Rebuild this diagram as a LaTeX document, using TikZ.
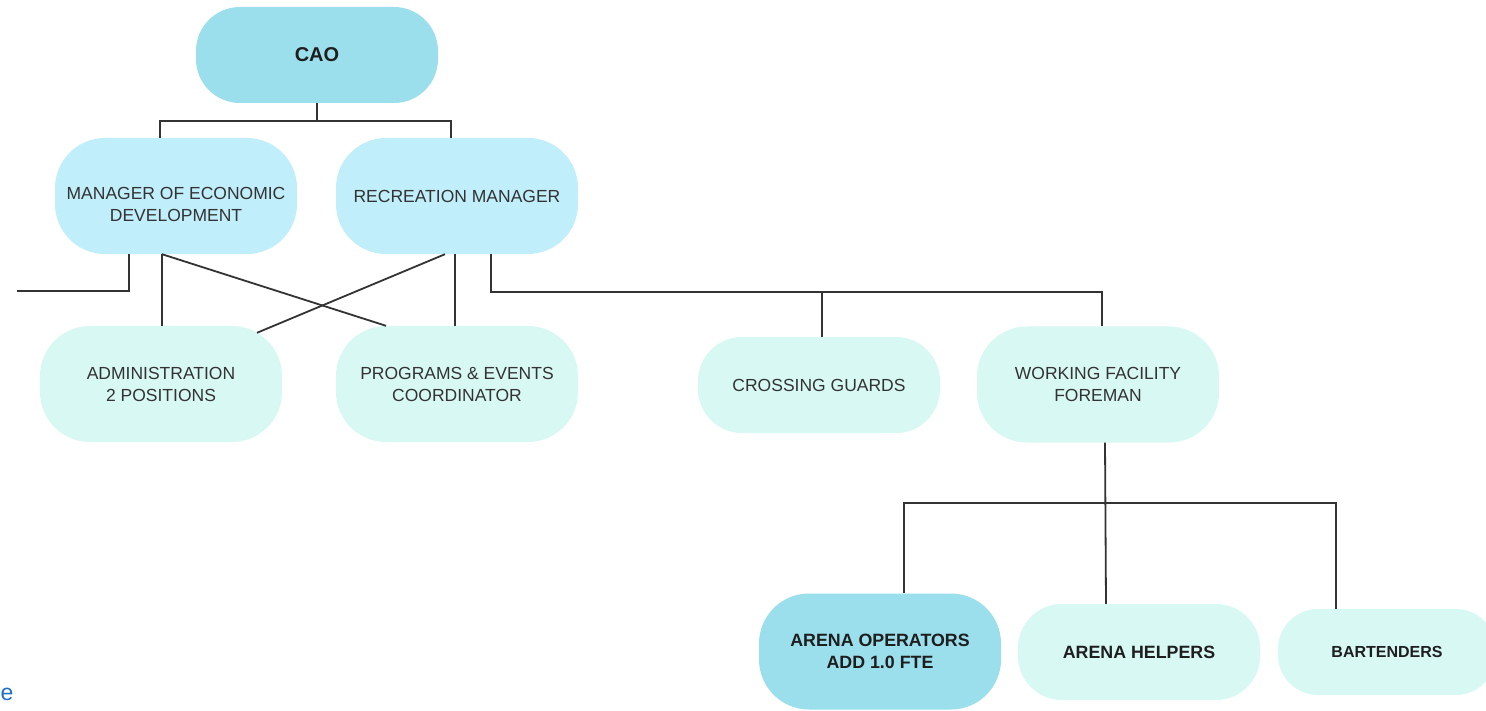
\documentclass[tikz,border=0pt]{standalone}
\usepackage{fontspec}
\setmainfont{Liberation Sans}
\usetikzlibrary{calc}
\definecolor{cdark}{HTML}{9ADFEB}
\definecolor{cmid}{HTML}{C0EEFB}
\definecolor{clight}{HTML}{D8F8F4}
\definecolor{ctext}{HTML}{333333}
\definecolor{cbold}{HTML}{1E1E1E}
\definecolor{cline}{HTML}{333333}
\definecolor{clink}{HTML}{1F6FC5}
\begin{document}
\begin{tikzpicture}[x=1pt,y=-1pt,
  box/.style={rectangle, align=center, inner sep=0pt, text=ctext,
    font=\fontsize{17.5}{22}\selectfont, minimum width=242pt},
  tallbox/.style={box, minimum height=116pt, rounded corners=50pt},
  shortbox/.style={box, minimum height=96pt, rounded corners=44pt},
  boldtext/.style={text=cbold, font=\fontsize{17.8}{22}\selectfont\bfseries},
  plaintext/.style={align=center, inner sep=0pt, text=ctext, font=\fontsize{17.5}{22}\selectfont},
  conn/.style={draw=cline, line width=1.8pt}]
\clip (0,0) rectangle (1486,711);
\fill[white] (0,0) rectangle (1486,711);

% nodes
\node[shortbox, fill=cdark, boldtext, font=\fontsize{20}{24}\selectfont\bfseries] (cao) at (317,55) {CAO};
\node[tallbox, fill=cmid] (med) at (176,196) {};
\node[plaintext] (medtext) at ($(med.center)+(0,8)$) {MANAGER OF ECONOMIC\\DEVELOPMENT};
\node[tallbox, fill=cmid] (rm) at (457,196) {RECREATION MANAGER};
\node[tallbox, fill=clight] (adm) at (161,384) {ADMINISTRATION\\2 POSITIONS};
\node[tallbox, fill=clight] (prog) at (457,384) {PROGRAMS \& EVENTS\\COORDINATOR};
\node[shortbox, fill=clight] (cg) at (819,385) {CROSSING GUARDS};
\node[tallbox, fill=clight] (wff) at (1098,384.5) {WORKING FACILITY\\FOREMAN};
\node[tallbox, fill=cdark, boldtext] (ao) at (880,651.5) {ARENA OPERATORS\\ADD 1.0 FTE};
\node[shortbox, fill=clight, boldtext] (ah) at (1139,652) {ARENA HELPERS};
\node[box, minimum width=218pt, minimum height=86pt, rounded corners=40pt, fill=clight, boldtext, font=\fontsize{16}{20}\selectfont\bfseries] (bt) at (1387,652) {BARTENDERS};
\node[anchor=base west, inner sep=0pt, text=clink, font=\fontsize{23}{26}\selectfont] (etext) at (0.5,700) {e};

% connectors
\coordinate (lefte) at (17,291);
\draw[conn] (cao.south) -- ++(0,18) coordinate (j1);
\draw[conn] ($(med.north)+(-16,0)$) |- (j1) -| ($(rm.north)+(-6,0)$);
\draw[conn] ($(med.south)+(-47,0)$) |- (lefte);
\draw[conn] ($(med.south)+(-14,0)$) -- ($(adm.north)+(1,0)$);
\draw[conn] ($(med.south)+(-14,0)$) -- ($(prog.north)+(-71,0)$);
\draw[conn] ($(rm.south)+(-12,0)$) -- ($(adm.north)+(96,7)$);
\draw[conn] ($(rm.south)+(-2,0)$) -- ($(prog.north)+(-2,0)$);
\draw[conn] ($(rm.south)+(34,0)$) -- ++(0,38) -| ($(wff.north)+(4,0)$);
\draw[conn] ($(cg.north)+(3,0)$) -- ++(0,-46);
\draw[conn] ($(wff.south)+(7,0)$) -- ($(ah.north)+(-33,0)$);
\draw[conn] ($(ao.north)+(24,0)$) -- ++(0,-90) -| ($(bt.north)+(-51,0)$);
\end{tikzpicture}
\end{document}
